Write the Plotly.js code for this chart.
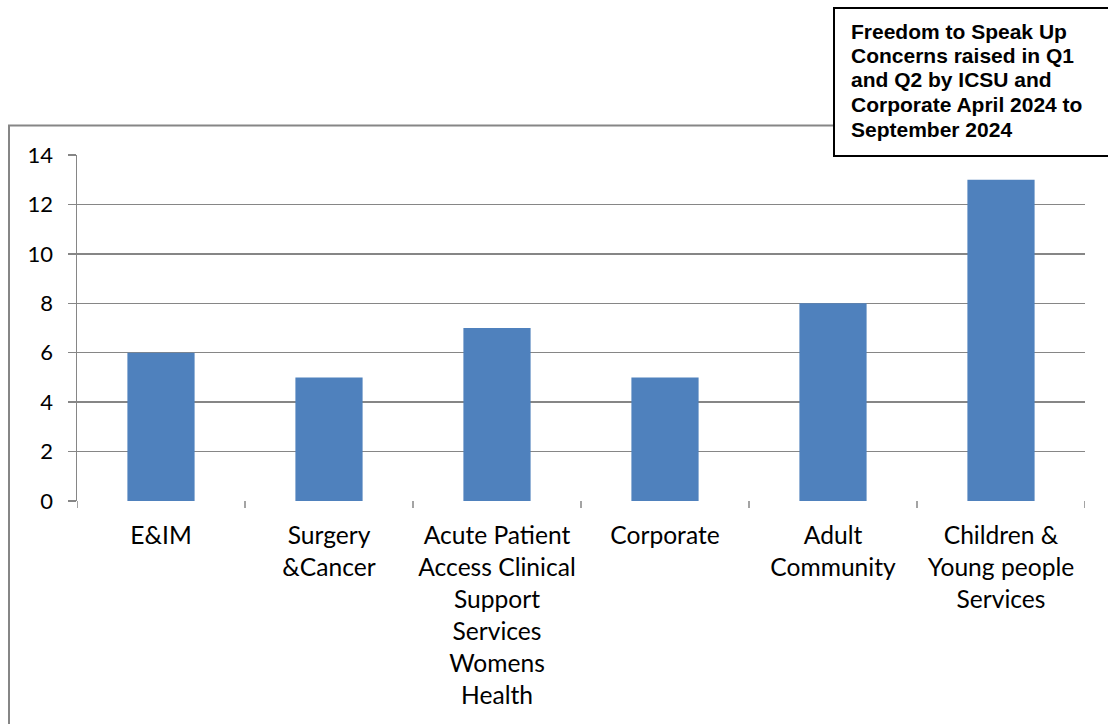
<!DOCTYPE html>
<html>
<head>
<meta charset="utf-8">
<script src="https://cdn.plot.ly/plotly-3.0.1.min.js"></script>
<style>
  html, body { margin: 0; padding: 0; background: #fff; overflow: hidden; }
  #chart { width: 1108px; height: 724px; }
</style>
</head>
<body>
<div id="chart"></div>
<script>
// Concerns raised per ICSU / Corporate, April–September 2024
const categories = [
  "E&IM",
  "Surgery<br>&Cancer",
  "Acute Patient<br>Access Clinical<br>Support<br>Services<br>Womens<br>Health",
  "Corporate",
  "Adult<br>Community",
  "Children &<br>Young people<br>Services"
];
const concerns = [6, 5, 7, 5, 8, 13];
const yTicks = [0, 2, 4, 6, 8, 10, 12, 14];
const titleLines = [
  "Freedom to Speak Up",
  "Concerns raised in Q1",
  "and Q2 by ICSU and",
  "Corporate April 2024 to",
  "September 2024"
];

const W = 1108, H = 724;
const M = { l: 77, r: 23, t: 155, b: 223 };
const pw = W - M.l - M.r, ph = H - M.t - M.b;
// pixel -> paper helpers for the frame and title box
const px = x => (x - M.l) / pw;
const py = y => 1 - (y - M.t) / ph;

const gridColor = "#868686";
const yFont = { family: "Lato, 'Open Sans', sans-serif", size: 22, color: "#000" };
const xFont = { family: "Lato, 'Open Sans', sans-serif", size: 24.6, color: "#000" };

const xIdx = categories.map((_, i) => i);

const trace = {
  type: "bar",
  x: xIdx,
  y: concerns,
  marker: { color: "#4F81BD", line: { width: 0 } },
  width: 0.4,
  hoverinfo: "skip"
};

const annotations = titleLines.map((t, i) => ({
  xref: "paper", yref: "paper",
  x: px(849), y: py(31 + i * 24.5),
  xanchor: "left", yanchor: "middle",
  text: "<b>" + t + "</b>",
  showarrow: false,
  font: { family: "Liberation Sans, Arial, sans-serif", size: 21, color: "#000" }
}));

const layout = {
  width: W, height: H,
  margin: M,
  paper_bgcolor: "#fff",
  plot_bgcolor: "#fff",
  showlegend: false,
  xaxis: {
    type: "linear",
    range: [-0.5, categories.length - 0.5],
    tickvals: xIdx,
    ticktext: categories,
    showgrid: false,
    zeroline: false,
    showline: false,
    ticks: "",
    ticklabelstandoff: 17,
    tickfont: xFont,
    fixedrange: true
  },
  yaxis: {
    range: [0, 14],
    tickvals: yTicks,
    ticktext: yTicks.map(String),
    showgrid: true,
    gridcolor: gridColor,
    gridwidth: 1.5,
    zeroline: false,
    showline: true,
    linecolor: gridColor,
    linewidth: 1.5,
    ticks: "outside",
    ticklen: 8,
    tickwidth: 1.5,
    tickcolor: gridColor,
    ticklabelstandoff: 10,
    tickfont: yFont,
    fixedrange: true
  },
  shapes: [
    // outer chart frame
    { type: "rect", xref: "paper", yref: "paper",
      x0: px(9), x1: px(1120), y0: py(740), y1: py(125.5),
      line: { color: "#868686", width: 2 }, fillcolor: "rgba(0,0,0,0)", layer: "below" },
    // category boundary ticks below the axis
    ...[0, 1, 2, 3, 4, 5, 6].map(k => ({
      type: "line", xref: "x", yref: "paper",
      x0: k - 0.5, x1: k - 0.5, y0: 0, y1: py(508),
      line: { color: gridColor, width: 1.5 }
    })),
    // title box
    { type: "rect", xref: "paper", yref: "paper",
      x0: px(834), x1: px(1120), y0: py(156), y1: py(8),
      line: { color: "#000", width: 2 }, fillcolor: "#fff", layer: "above" }
  ],
  annotations: annotations
};

Plotly.newPlot("chart", [trace], layout, { staticPlot: true, displayModeBar: false });
</script>
</body>
</html>
